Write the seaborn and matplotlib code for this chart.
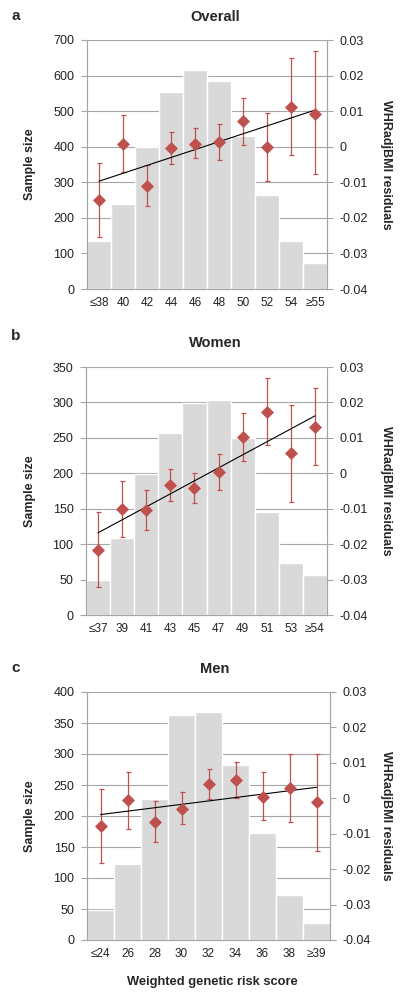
import numpy as np
import matplotlib
matplotlib.use("Agg")
import matplotlib.pyplot as plt
import seaborn as sns

# a - overall
a_labels = ['≤38', '40', '42', '44', '46', '48', '50', '52', '54', '≥55']
a_counts = [135, 240, 400, 553, 615, 585, 430, 265, 135, 73]
a_resid = [-0.015, 0.0008, -0.011, -0.0003, 0.0008, 0.0013, 0.0072, 0.0, 0.0112, 0.0093]
a_lo = [-0.0255, -0.007, -0.0168, -0.0048, -0.0033, -0.0037, 0.0005, -0.0095, -0.0023, -0.0077]
a_hi = [-0.0045, 0.009, -0.0052, 0.0042, 0.0052, 0.0063, 0.0138, 0.0095, 0.025, 0.027]
a_trend = [-0.0097, 0.0103]

# b - women
b_labels = ['≤37', '39', '41', '43', '45', '47', '49', '51', '53', '≥54']
b_counts = [50, 109, 199, 257, 299, 303, 250, 145, 73, 57]
b_resid = [-0.0216, -0.01, -0.0104, -0.0034, -0.0042, 0.0004, 0.0102, 0.0174, 0.0056, 0.0132]
b_lo = [-0.032, -0.018, -0.016, -0.0078, -0.0084, -0.0046, 0.0036, 0.008, -0.008, 0.0022]
b_hi = [-0.011, -0.0022, -0.0046, 0.0012, 0.0002, 0.0054, 0.017, 0.027, 0.0192, 0.0242]
b_trend = [-0.0168, 0.0162]

# c - men
c_labels = ['≤24', '26', '28', '30', '32', '34', '36', '38', '≥39']
c_counts = [48, 123, 227, 363, 367, 282, 172, 72, 27]
c_resid = [-0.0078, -0.0006, -0.0066, -0.0029, 0.0039, 0.0052, 0.0004, 0.0029, -0.0011]
c_lo = [-0.0183, -0.0087, -0.0124, -0.0073, -0.0003, 0.0001, -0.0062, -0.0066, -0.015]
c_hi = [0.0027, 0.0074, -0.0008, 0.0017, 0.0083, 0.0102, 0.0073, 0.0125, 0.0125]
c_trend = [-0.0046, 0.0031]

right_ticks = [-0.04, -0.03, -0.02, -0.01, 0, 0.01, 0.02, 0.03]
right_ticklabels = ['-0.04', '-0.03', '-0.02', '-0.01', '0', '0.01', '0.02', '0.03']

sns.set_style("white")
plt.rcParams['font.family'] = ['Liberation Sans', 'DejaVu Sans']

W, H = 400, 998
fig = plt.figure(figsize=(W / 100, H / 100), dpi=100)

red = '#c0504d'
grid_col = '#a6a6a6'
bar_col = '#d9d9d9'
txt = '#222222'
tick_fs = 9


def panel(px, letter, title, labels, counts, resid, lo, hi, trend, ymax, ystep, title_y, letter_y):
    # px = (left, top, right, bottom) in pixels
    l, t, r, b = px
    ax = fig.add_axes([l / W, 1 - b / H, (r - l) / W, (b - t) / H])
    sns.barplot(x=labels, y=counts, order=labels, color=bar_col, width=1,
                edgecolor='white', linewidth=1, saturation=1, ax=ax)
    n = len(labels)
    ax.set_xlim(-0.5, n - 0.5)
    ax.set_ylim(0, ymax)
    ax.set_yticks(np.arange(0, ymax + 1, ystep))
    ax.set_axisbelow(True)
    ax.yaxis.grid(True, color=grid_col, lw=0.8)
    ax.set_xlabel('')
    ax.set_ylabel('')
    ax.set_xticks(np.arange(-0.5, n, 1), minor=True)
    ax.tick_params(axis='x', which='major', length=0, pad=6, labelsize=tick_fs - 0.5, colors=txt)
    ax.tick_params(axis='x', which='minor', length=4, color=grid_col, width=0.8)
    ax.tick_params(axis='y', length=4, color=grid_col, width=0.8, labelsize=tick_fs,
                   labelcolor=txt, pad=5)
    for s in ['left', 'right', 'bottom']:
        ax.spines[s].set_color(grid_col)
        ax.spines[s].set_linewidth(0.8)
    ax.spines['top'].set_visible(False)

    ax2 = ax.twinx()
    x = np.arange(n)
    resid = np.array(resid)
    err = [resid - np.array(lo), np.array(hi) - resid]
    ax2.errorbar(x, resid, yerr=err, fmt='none', ecolor=red, elinewidth=0.9,
                 capsize=1.8, capthick=0.9)
    sns.scatterplot(x=x, y=resid, marker='D', color=red, s=44, edgecolor=red,
                    linewidth=0, ax=ax2, zorder=5)
    sns.lineplot(x=[0, n - 1], y=trend, color='black', lw=0.8, ax=ax2)
    ax2.set_ylim(-0.04, 0.03)
    ax2.set_yticks(right_ticks)
    ax2.set_yticklabels(right_ticklabels)
    ax2.tick_params(axis='y', length=4, color=grid_col, width=0.8, labelsize=tick_fs,
                    labelcolor=txt, pad=5)
    for s in ['left', 'right', 'bottom']:
        ax2.spines[s].set_color(grid_col)
        ax2.spines[s].set_linewidth(0.8)
    ax2.spines['top'].set_visible(False)
    ax2.set_xlim(-0.5, n - 0.5)

    cy = 1 - (t + b) / 2 / H
    fig.text(30 / W, cy, 'Sample size', rotation=90, ha='center', va='center',
             fontsize=9, fontweight='bold')
    fig.text(386 / W, cy, 'WHRadjBMI residuals', rotation=270, ha='center', va='center',
             fontsize=9, fontweight='bold')
    fig.text(215 / W, 1 - title_y / H, title, ha='center', va='center',
             fontsize=10.5, fontweight='bold')
    fig.text(16 / W, 1 - letter_y / H, letter, ha='center', va='center',
             fontsize=11, fontweight='bold')
    return ax


panel((87, 40, 327, 289), 'a', 'Overall', a_labels, a_counts, a_resid, a_lo, a_hi,
      a_trend, 700, 100, 17, 16)
panel((86, 367, 327, 615), 'b', 'Women', b_labels, b_counts, b_resid, b_lo, b_hi,
      b_trend, 350, 50, 343, 336)
panel((87, 692, 330, 940), 'c', 'Men', c_labels, c_counts, c_resid, c_lo, c_hi,
      c_trend, 400, 50, 669, 668)

fig.text(212 / W, 1 - 982 / H, 'Weighted genetic risk score', ha='center', va='center',
         fontsize=9.3, fontweight='bold')

fig.savefig('out.png', dpi=100)
